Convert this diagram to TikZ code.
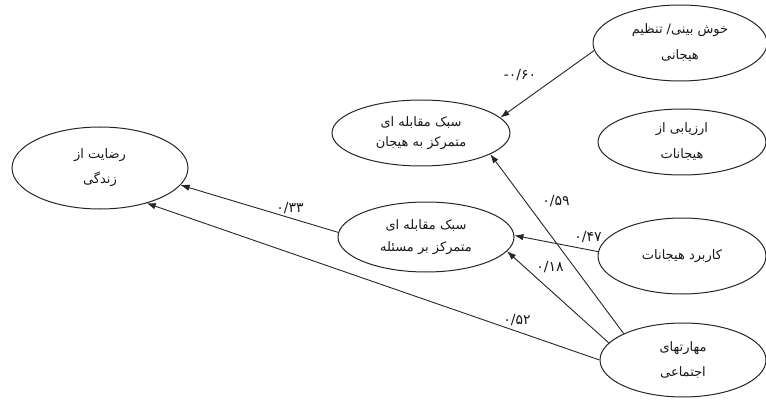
\documentclass[tikz,border=0pt]{standalone}
\usepackage{fontspec}
\usetikzlibrary{shapes.geometric,arrows.meta}
\TeXXeTstate=1
\newfontfamily\fa[Script=Arabic]{DejaVu Sans}
\newfontfamily\fanum{DejaVu Sans}
\begin{document}
\begin{tikzpicture}[x=1pt,y=-1pt,
  ell/.style={ellipse, draw=black!85, line width=1pt, inner sep=0pt, align=center,
    font=\fa\fontsize{13}{26}\selectfont, text=black!90},
  arr/.style={draw=black!85, line width=0.9pt, -{Latex[length=9pt,width=6.5pt]}},
  lab/.style={font=\fanum\fontsize{14}{14}\selectfont, text=black!90, inner sep=1pt}]
\useasboundingbox (0,0) rectangle (766,401);
\fill[white] (0,0) rectangle (766,401);
\node[ell, minimum width=174, minimum height=76] (e1) at (680,43)
  {\beginR خوش بینی/ تنظیم\endR\\\beginR هیجانی\endR};
\node[ell, minimum width=168, minimum height=66] (e2) at (682,142)
  {\beginR ارزیابی از\endR\\\beginR هیجانات\endR};
\node[ell, minimum width=168, minimum height=76] (e3) at (682,256)
  {\beginR کاربرد هیجانات\endR};
\node[ell, minimum width=166, minimum height=74, font=\fa\fontsize{13}{25}\selectfont] (e4) at (683,360)
  {\beginR مهارتهای\endR\\\beginR اجتماعی\endR};
\node[ell, minimum width=178, minimum height=66, font=\fa\fontsize{13}{20}\selectfont] (e5) at (421,133)
  {\beginR سبک مقابله ای\endR\\\beginR متمرکز به هیجان\endR};
\node[ell, minimum width=176, minimum height=70, font=\fa\fontsize{13}{22}\selectfont] (e6) at (426,237)
  {\beginR سبک مقابله ای\endR\\\beginR متمرکز بر مسئله\endR};
\node[ell, minimum width=176, minimum height=82, font=\fa\fontsize{13}{25}\selectfont] (e7) at (100,168)
  {\beginR رضایت از\endR\\\beginR زندگی\endR};

\draw[arr] (e1.185) -- (e5.11);
\draw[arr] (e4.156) -- (e5.-17);
\draw[arr] (e3.177) -- (e6.1);
\draw[arr] (e4.167) -- (e6.-10);
\draw[arr] (e6.177) -- (e7.-12);
\draw[arr] (e4.180) -- (e7.-37);

\node[lab] (l1) at (520,75) {-۰/۶۰};
\node[lab] (l2) at (556,201) {۰/۵۹};
\node[lab] (l3) at (588,237) {۰/۴۷};
\node[lab] (l4) at (550,267) {۰/۱۸};
\node[lab] (l5) at (290,208) {۰/۳۳};
\node[lab] (l6) at (517,320) {۰/۵۲};
\end{tikzpicture}
\end{document}
